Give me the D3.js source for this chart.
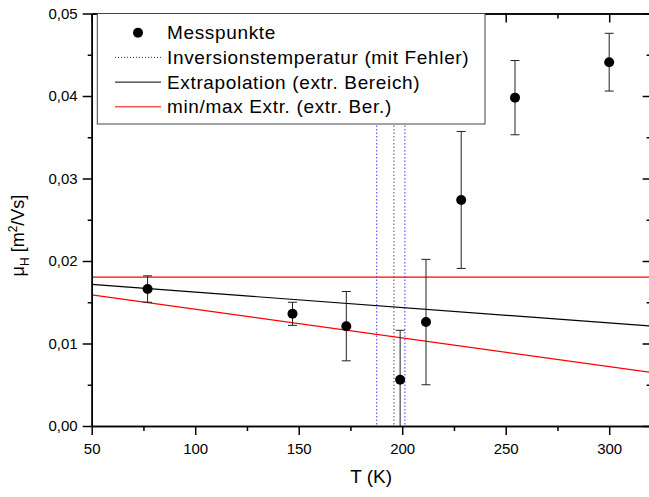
<!DOCTYPE html>
<html>
<head>
<meta charset="utf-8">
<script src="https://cdn.jsdelivr.net/npm/d3@7"></script>
<style>
  body { margin: 0; background: #fff; }
  svg { display: block; font-family: "Liberation Sans", Arial, sans-serif; }
</style>
</head>
<body>
<svg id="chart" width="649" height="497"></svg>
<script>
// measured points (Hall mobility vs temperature)
var temps = [77, 147, 173, 199, 211.5, 228.5, 254.5, 300];
var mobility = [0.0166, 0.0136, 0.0121, 0.0056, 0.0126, 0.0274, 0.0398, 0.0441];
var mobilityErr = [0.0016, 0.0014, 0.0042, 0.0060, 0.0076, 0.0083, 0.0045, 0.0035];

// inversion temperature with lower / upper bound
var inversionT = [187.7, 196, 201.3];

// extrapolation lines, given at the ends of the T range
var lineT = [50, 320];
var extrapMu = [0.01716, 0.01212];
var minExtrapMu = [0.0159, 0.0065];
var maxExtrapMu = [0.01805, 0.01805];

var xTicks = [50, 100, 150, 200, 250, 300];
var yTicks = [0, 0.01, 0.02, 0.03, 0.04, 0.05];

var legendLabels = ["Messpunkte", "Inversionstemperatur (mit Fehler)",
                    "Extrapolation (extr. Bereich)", "min/max Extr. (extr. Ber.)"];

var svg = d3.select("#chart"),
    margin = {top: 13.5, left: 91.7, bottom: 71, right: -1.6},
    width = +svg.attr("width") - margin.left - margin.right,
    height = +svg.attr("height") - margin.top - margin.bottom,
    g = svg.append("g").attr("transform", "translate(" + margin.left + "," + margin.top + ")");

var x = d3.scaleLinear().domain([50, 320]).range([0, width]);
var y = d3.scaleLinear().domain([0, 0.05]).range([height, 0]);

var comma = function(d) { return d3.format(".2f")(d).replace(".", ","); };

svg.append("clipPath").attr("id", "plot")
  .append("rect").attr("width", width).attr("height", height);

var plot = g.append("g").attr("clip-path", "url(#plot)");

// vertical lines for the inversion temperature
plot.selectAll(".inv")
    .data(inversionT)
    .enter().append("line")
    .attr("class", "inv")
    .attr("x1", function(d) { return x(d); })
    .attr("x2", function(d) { return x(d); })
    .attr("y1", 0)
    .attr("y2", height)
    .attr("stroke", function(d, i) { return i == 1 ? "#555" : "#3a3aff"; })
    .attr("stroke-width", 1)
    .attr("stroke-dasharray", "1.5,2");

// extrapolation lines
function extrapLine(mu, color) {
  plot.append("line")
      .attr("x1", x(lineT[0]))
      .attr("x2", x(lineT[1]))
      .attr("y1", y(mu[0]))
      .attr("y2", y(mu[1]))
      .style("stroke", color)
      .style("stroke-width", 1.2);
}
extrapLine(maxExtrapMu, "rgb(255,0,0)");
extrapLine(extrapMu, "#000");
extrapLine(minExtrapMu, "rgb(255,0,0)");

// error bars
var points = temps.map(function(t, i) { return {t: t, mu: mobility[i], err: mobilityErr[i]}; });
var bars = plot.selectAll(".err")
    .data(points)
    .enter().append("g")
    .attr("class", "err")
    .attr("stroke", "#222")
    .attr("stroke-width", 1);
bars.append("line")
    .attr("x1", function(d) { return x(d.t); })
    .attr("x2", function(d) { return x(d.t); })
    .attr("y1", function(d) { return y(d.mu + d.err); })
    .attr("y2", function(d) { return y(d.mu - d.err); });
bars.selectAll(".cap")
    .data(function(d) { return [[d.t, d.mu + d.err], [d.t, d.mu - d.err]]; })
    .enter().append("line")
    .attr("x1", function(d) { return x(d[0]) - 4.5; })
    .attr("x2", function(d) { return x(d[0]) + 4.5; })
    .attr("y1", function(d) { return y(d[1]); })
    .attr("y2", function(d) { return y(d[1]); });

plot.selectAll(".dot")
    .data(points)
    .enter().append("circle")
    .attr("class", "dot")
    .attr("cx", function(d) { return x(d.t); })
    .attr("cy", function(d) { return y(d.mu); })
    .attr("r", 5)
    .attr("fill", "#000");

// axes: bottom/left with labels and outward ticks, top/right inward ticks
function styleAxis(sel) {
  sel.select(".domain").attr("stroke", "#000").attr("stroke-width", 1.5);
  sel.selectAll(".tick line").attr("stroke", "#000").attr("stroke-width", 1.5);
  sel.selectAll(".tick text").attr("font-size", 15).attr("fill", "#000");
}

var xMinor = d3.range(75, 320, 50);
var yMinor = d3.range(0.005, 0.05, 0.01);

g.append("g").attr("transform", "translate(0," + height + ")")
    .call(d3.axisBottom(x).tickValues(xMinor).tickSize(5).tickFormat("").tickSizeOuter(0))
    .call(styleAxis);
g.append("g").attr("transform", "translate(0," + height + ")")
    .call(d3.axisBottom(x).tickValues(xTicks).tickSize(9).tickPadding(8).tickSizeOuter(0))
    .call(styleAxis);

g.append("g")
    .call(d3.axisLeft(y).tickValues(yMinor).tickSize(4).tickFormat("").tickSizeOuter(0))
    .call(styleAxis);
g.append("g")
    .call(d3.axisLeft(y).tickValues(yTicks).tickSize(9).tickPadding(5).tickFormat(comma).tickSizeOuter(0))
    .call(styleAxis);

g.append("g")
    .call(d3.axisTop(x).tickValues(xMinor).tickSize(-5).tickFormat("").tickSizeOuter(0))
    .call(styleAxis);
g.append("g")
    .call(d3.axisTop(x).tickValues(xTicks).tickSize(-9).tickFormat("").tickSizeOuter(0))
    .call(styleAxis);

g.append("g").attr("transform", "translate(" + width + ",0)")
    .call(d3.axisRight(y).tickValues(yMinor).tickSize(-4).tickFormat("").tickSizeOuter(0))
    .call(styleAxis);
g.append("g").attr("transform", "translate(" + width + ",0)")
    .call(d3.axisRight(y).tickValues(yTicks).tickSize(-8).tickFormat("").tickSizeOuter(0))
    .call(styleAxis);

// axis titles
g.append("text")
    .attr("x", width / 2)
    .attr("y", height + 57)
    .attr("text-anchor", "middle")
    .attr("font-size", 19)
    .text("T (K)");

var yTitle = svg.append("text")
    .attr("transform", "translate(23.5,235.5) rotate(-90)")
    .attr("text-anchor", "middle")
    .attr("font-size", 18);
yTitle.append("tspan").text("\u03bc");
yTitle.append("tspan").attr("font-size", 12).attr("dy", 5).text("H");
yTitle.append("tspan").attr("dy", -5).text(" [m");
yTitle.append("tspan").attr("font-size", 12).attr("dy", -7).text("2");
yTitle.append("tspan").attr("dy", 7).text("/Vs]");

// legend
var legend = g.append("g").attr("transform", "translate(" + (97.3 - margin.left) + ",0)");
legend.append("rect")
    .attr("width", 387.7)
    .attr("height", 110.5)
    .attr("fill", "#fff")
    .attr("stroke", "#444")
    .attr("stroke-width", 1);

var items = legend.selectAll(".item")
    .data(legendLabels)
    .enter().append("g")
    .attr("class", "item")
    .attr("transform", function(d, i) { return "translate(0," + (19.2 + i * 24.7) + ")"; });

items.append("text")
    .attr("x", 69.7)
    .attr("dy", "0.35em")
    .attr("font-size", 19)
    .attr("letter-spacing", 0.65)
    .text(function(d) { return d; });

items.filter(function(d, i) { return i == 0; })
  .append("circle").attr("cx", 40.7).attr("r", 5).attr("fill", "#000");

items.filter(function(d, i) { return i > 0; })
  .append("line")
    .attr("x1", 17.7).attr("x2", 63.7)
    .attr("stroke", function(d, i) { return ["#333", "#000", "#ff0000"][i]; })
    .attr("stroke-width", 1)
    .attr("stroke-dasharray", function(d, i) { return i == 0 ? "1,2" : null; });
</script>
</body>
</html>
